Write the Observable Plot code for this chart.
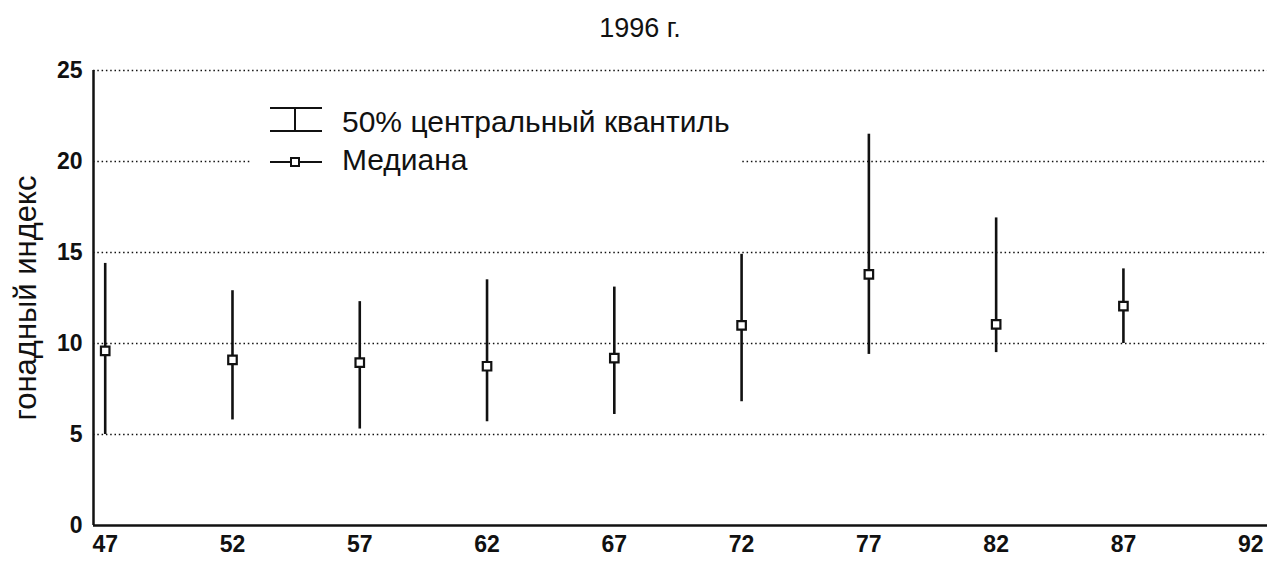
<!DOCTYPE html>
<html>
<head>
<meta charset="utf-8">
<script src="https://cdn.jsdelivr.net/npm/d3@7"></script>
<script src="https://cdn.jsdelivr.net/npm/@observablehq/plot@0.6"></script>
<style>
  html, body { margin: 0; padding: 0; background: #fff; }
  #wrap { position: relative; width: 1274px; height: 562px; font-family: "Liberation Sans", Arial, sans-serif; }
  #title { height: 50px; line-height: 56px; text-align: center; font-size: 27px; color: #111; padding-left: 6px; }
  #legend { position: absolute; left: 252px; top: 93px; }
</style>
</head>
<body>
<div id="wrap">
  <div id="title"></div>
  <div id="chart"></div>
  <svg id="legend" width="490" height="90" xmlns="http://www.w3.org/2000/svg"></svg>
</div>
<script>
// Data
const titleText = "1996 г.";
const yLabel = "гонадный индекс";
const ages = [47, 52, 57, 62, 67, 72, 77, 82, 87];
const q25 = [5.0, 5.8, 5.3, 5.7, 6.1, 6.8, 9.4, 9.5, 10.0];
const q75 = [14.4, 12.9, 12.3, 13.5, 13.1, 14.9, 21.5, 16.9, 14.1];
const medians = [9.6, 9.1, 8.95, 8.75, 9.2, 11.0, 13.8, 11.05, 12.05];
const xTicks = [47, 52, 57, 62, 67, 72, 77, 82, 87, 92];
const yTicks = [0, 5, 10, 15, 20, 25];
const gridTicks = [5, 10, 15, 20, 25];
const xDomain = [46.54, 92.66];
const yDomain = [0, 25];
const legendLabels = ["50% центральный квантиль", "Медиана"];

document.getElementById("title").textContent = titleText;

const rows = ages.map((a, i) => ({age: a, lo: q25[i], hi: q75[i], med: medians[i]}));

const chart = Plot.plot({
  width: 1274,
  height: 512,
  marginLeft: 93,
  marginRight: 7,
  marginTop: 20,
  marginBottom: 37,
  style: {fontFamily: "'Liberation Sans', Arial, sans-serif", fontSize: "23px", background: "#fff", color: "#111"},
  x: {domain: xDomain, ticks: xTicks, tickFormat: d => String(d)},
  y: {domain: yDomain, ticks: yTicks},
  marks: [
    Plot.ruleY(gridTicks, {stroke: "#111", strokeWidth: 1.6, strokeDasharray: "1.5,2.8"}),
    Plot.axisY({ticks: yTicks, tickSize: 0, tickPadding: 11, fontWeight: "bold", fontSize: 23,
      label: yLabel, labelAnchor: "center", labelArrow: "none", labelOffset: 80}),
    Plot.axisX({ticks: xTicks, tickSize: 0, tickPadding: 10, fontWeight: "bold", fontSize: 23, label: null}),
    Plot.ruleX([xDomain[0]], {stroke: "#111", strokeWidth: 2.5}),
    Plot.ruleY([yDomain[0]], {stroke: "#111", strokeWidth: 2.5}),
    Plot.ruleX(rows, {x: "age", y1: "lo", y2: "hi", stroke: "#111", strokeWidth: 2.6}),
    Plot.dot(rows, {x: "age", y: "med", symbol: "square", r: 4.8, fill: "#fff", stroke: "#111", strokeWidth: 2.2})
  ]
});
chart.querySelectorAll("text").forEach(t => {
  if (t.textContent === yLabel) { t.setAttribute("font-size", "31"); t.setAttribute("font-weight", "normal"); }
});
document.getElementById("chart").appendChild(chart);

// Legend
const lg = d3.select("#legend");
lg.append("rect").attr("width", 490).attr("height", 90).attr("fill", "#fff");
const g1 = lg.append("g").attr("stroke", "#111").attr("stroke-width", 2);
g1.append("line").attr("x1", 18).attr("x2", 70).attr("y1", 15).attr("y2", 15);
g1.append("line").attr("x1", 18).attr("x2", 70).attr("y1", 38).attr("y2", 38);
g1.append("line").attr("x1", 43).attr("x2", 43).attr("y1", 15).attr("y2", 38);
g1.append("line").attr("x1", 18).attr("x2", 70).attr("y1", 69).attr("y2", 69);
g1.append("rect").attr("x", 39).attr("y", 65).attr("width", 8).attr("height", 8).attr("fill", "#fff");
lg.append("text").attr("x", 90).attr("y", 39).attr("font-size", 30).attr("fill", "#111")
  .attr("font-family", "'Liberation Sans', Arial, sans-serif").text(legendLabels[0]);
lg.append("text").attr("x", 90).attr("y", 77).attr("font-size", 30).attr("fill", "#111")
  .attr("font-family", "'Liberation Sans', Arial, sans-serif").text(legendLabels[1]);
</script>
</body>
</html>
